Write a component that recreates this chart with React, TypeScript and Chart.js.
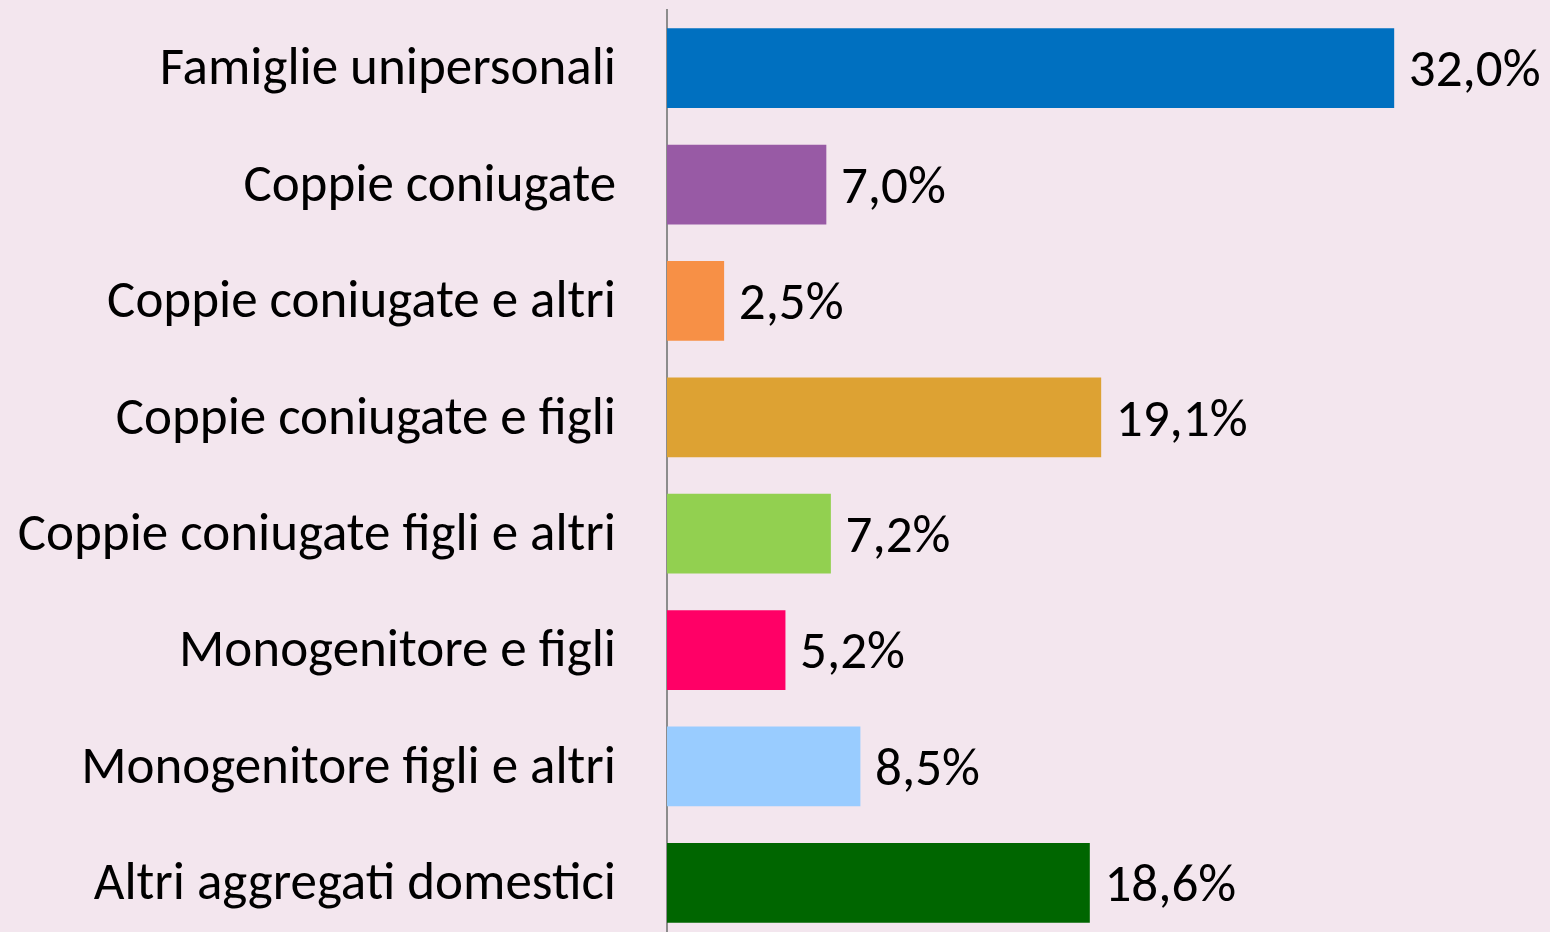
import React, { useEffect, useRef } from "react";
import { Chart, registerables } from "chart.js";

Chart.register(...registerables);

const categories = [
  "Famiglie unipersonali",
  "Coppie coniugate",
  "Coppie coniugate e altri",
  "Coppie coniugate e figli",
  "Coppie coniugate figli e altri",
  "Monogenitore e figli",
  "Monogenitore figli e altri",
  "Altri aggregati domestici",
];
const values = [32.0, 7.0, 2.5, 19.1, 7.2, 5.2, 8.5, 18.6];
const valueLabels = ["32,0%", "7,0%", "2,5%", "19,1%", "7,2%", "5,2%", "8,5%", "18,6%"];
const barColors = ["#0070C0", "#985AA5", "#F79046", "#DDA233", "#92D050", "#FF0066", "#99CCFF", "#006600"];

const FONT = "Carlito, 'Open Sans', sans-serif";
const FONT_SIZE = 53;
const BG = "#F3E6EE";

const valueLabelPlugin = {
  id: "valueLabels",
  afterDatasetsDraw(chart: any) {
    const ctx = chart.ctx;
    const meta = chart.getDatasetMeta(0);
    ctx.save();
    ctx.fillStyle = "#000";
    ctx.font = `${FONT_SIZE}px ${FONT}`;
    ctx.textAlign = "left";
    ctx.textBaseline = "middle";
    meta.data.forEach((el: any, i: number) => {
      ctx.fillText(valueLabels[i], el.x + 15, el.y + 5);
    });
    ctx.restore();
  },
};

const bgPlugin = {
  id: "bg",
  beforeDraw(chart: any) {
    const ctx = chart.ctx;
    ctx.save();
    ctx.fillStyle = BG;
    ctx.fillRect(0, 0, chart.width, chart.height);
    ctx.restore();
  },
};

export default function App() {
  const ref = useRef<HTMLCanvasElement | null>(null);
  useEffect(() => {
    document.body.style.margin = "0";
    document.body.style.background = BG;
    const chart = new Chart(ref.current!, {
      type: "bar",
      data: {
        labels: categories,
        datasets: [
          {
            data: values,
            backgroundColor: barColors,
            borderWidth: 0,
            barThickness: 79,
          },
        ],
      },
      options: {
        indexAxis: "y",
        responsive: false,
        animation: false,
        layout: { padding: { top: 10, bottom: 0, left: 0, right: 88 } },
        plugins: { legend: { display: false }, tooltip: { enabled: false } },
        scales: {
          x: {
            display: false,
            min: 0,
            max: 35,
          },
          y: {
            grid: { display: false, drawTicks: false },
            border: { display: true, color: "#8C8C8C", width: 2 },
            ticks: {
              color: "#000",
              padding: 51,
              labelOffset: 3,
              font: { family: FONT, size: FONT_SIZE },
            },
            afterFit(scale: any) {
              scale.width = 667;
              scale.paddingTop = 0;
              scale.paddingBottom = 0;
            },
          },
        },
      },
      plugins: [bgPlugin, valueLabelPlugin],
    });
    return () => chart.destroy();
  }, []);
  return (
    <div style={{ position: "absolute", left: 0, top: 0, width: 1550, height: 932, overflow: "hidden", background: BG }}>
      <canvas ref={ref} width={1550} height={941} style={{ display: "block" }} />
    </div>
  );
}
